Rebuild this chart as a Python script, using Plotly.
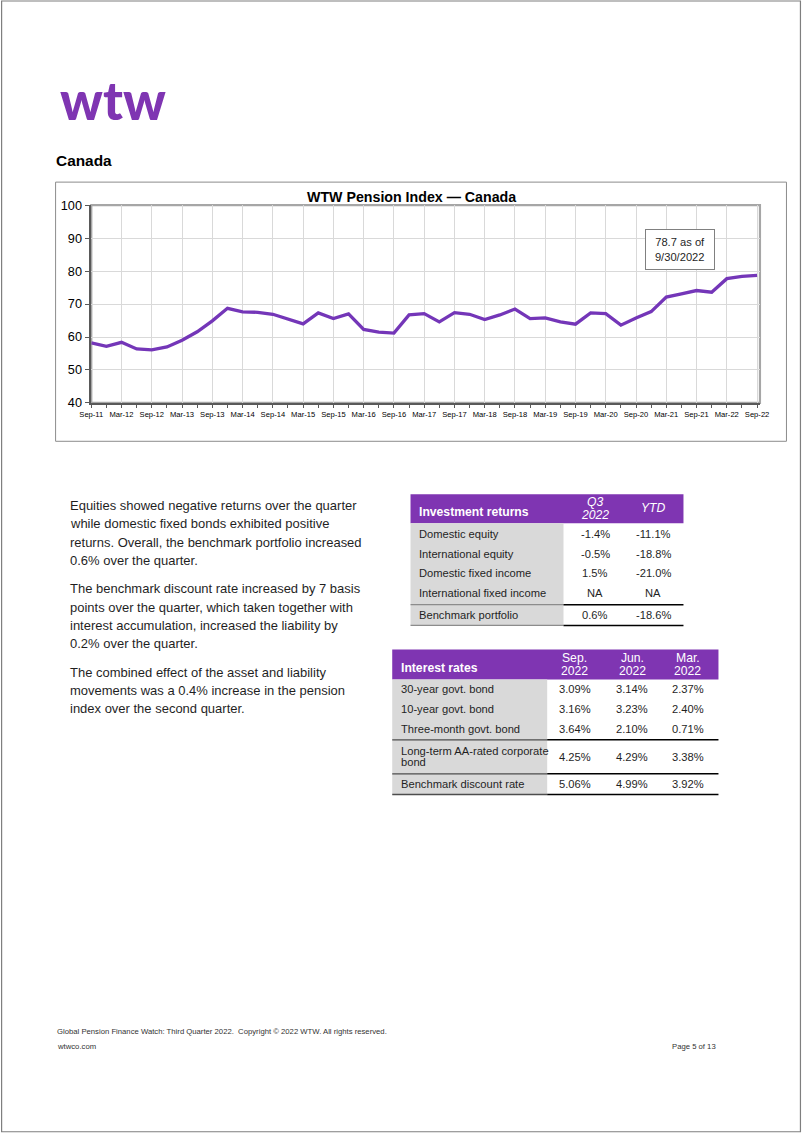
import plotly.graph_objects as go

# ---------------- data ----------------
quarters = [
    "Sep-11", "Dec-11", "Mar-12", "Jun-12", "Sep-12", "Dec-12", "Mar-13", "Jun-13",
    "Sep-13", "Dec-13", "Mar-14", "Jun-14", "Sep-14", "Dec-14", "Mar-15", "Jun-15",
    "Sep-15", "Dec-15", "Mar-16", "Jun-16", "Sep-16", "Dec-16", "Mar-17", "Jun-17",
    "Sep-17", "Dec-17", "Mar-18", "Jun-18", "Sep-18", "Dec-18", "Mar-19", "Jun-19",
    "Sep-19", "Dec-19", "Mar-20", "Jun-20", "Sep-20", "Dec-20", "Mar-21", "Jun-21",
    "Sep-21", "Dec-21", "Mar-22", "Jun-22", "Sep-22",
]
index_values = [
    58.2, 57.2, 58.4, 56.4, 56.1, 57.0, 59.0, 61.6, 64.9, 68.7,
    67.6, 67.5, 66.9, 65.5, 64.0, 67.3, 65.6, 67.0, 62.3, 61.5,
    61.2, 66.7, 67.1, 64.6, 67.4, 66.9, 65.3, 66.7, 68.5, 65.6,
    65.8, 64.6, 63.9, 67.3, 67.1, 63.6, 65.8, 67.7, 72.1, 73.1,
    74.1, 73.6, 77.7, 78.4, 78.7,
]
y_ticks = [40, 50, 60, 70, 80, 90, 100]
chart_title = "WTW Pension Index \u2014 Canada"
callout = "78.7 as of<br>9/30/2022"

paragraphs = [
    ["Equities showed negative returns over the quarter",
     "while domestic fixed bonds exhibited positive",
     "returns. Overall, the benchmark portfolio increased",
     "0.6% over the quarter."],
    ["The benchmark discount rate increased by 7 basis",
     "points over the quarter, which taken together with",
     "interest accumulation, increased the liability by",
     "0.2% over the quarter."],
    ["The combined effect of the asset and liability",
     "movements was a 0.4% increase in the pension",
     "index over the second quarter."],
]

inv_header = ["Investment returns", "Q3<br>2022", "YTD"]
inv_rows = ["Domestic equity", "International equity", "Domestic fixed income",
            "International fixed income", "Benchmark portfolio"]
inv_q3 = ["-1.4%", "-0.5%", "1.5%", "NA", "0.6%"]
inv_ytd = ["-11.1%", "-18.8%", "-21.0%", "NA", "-18.6%"]

ir_header = ["Interest rates", "Sep.<br>2022", "Jun.<br>2022", "Mar.<br>2022"]
ir_rows = ["30-year govt. bond", "10-year govt. bond", "Three-month govt. bond",
           "Long-term AA-rated corporate<br>bond", "Benchmark discount rate"]
ir_sep = ["3.09%", "3.16%", "3.64%", "4.25%", "5.06%"]
ir_jun = ["3.14%", "3.23%", "2.10%", "4.29%", "4.99%"]
ir_mar = ["2.37%", "2.40%", "0.71%", "3.38%", "3.92%"]

footer_1 = "Global Pension Finance Watch: Third Quarter 2022.  Copyright \u00a9 2022 WTW. All rights reserved."
footer_2 = "wtwco.com"
footer_page = "Page 5 of 13"

# ---------------- layout helpers ----------------
W, H = 802, 1133
# observed placement of the rendered page inside the returned picture
SX, BX, SY, BY = 0.974, 11.4, 0.987, 7.0
FS = 1.015
FONT = "Liberation Sans, Arial, sans-serif"
PURPLE = "#7F35B2"
LINE_PURPLE = "#7436B8"
TEXT = "#1f1f1f"
GRAYCOL = "#d9d9d9"


def px(x):
    return ((x - BX) / SX) / W


def py(y):
    return 1 - ((y - BY) / SY) / H


annotations = []
shapes = []


def add_text(x, y, s, size=11, color=TEXT, xanchor="left", bold=False,
             italic=False, gap=None, family=FONT):
    lines = s.split("<br>")
    gap = gap if gap is not None else size * 1.1
    y0 = y - gap * (len(lines) - 1) / 2
    for i, ln in enumerate(lines):
        t = ln
        if bold:
            t = "<b>" + t + "</b>"
        if italic:
            t = "<i>" + t + "</i>"
        annotations.append(dict(
            x=px(x), y=py(y0 + i * gap), xref="paper", yref="paper",
            text=t, showarrow=False, xanchor=xanchor, yanchor="middle",
            font=dict(size=size * FS, color=color, family=family),
        ))


def rect(x0, y0, x1, y1, fill=None, line_color=None, lw=1):
    shapes.append(dict(
        type="rect", xref="paper", yref="paper",
        x0=px(x0), x1=px(x1), y0=py(y1), y1=py(y0),
        fillcolor=fill if fill else "rgba(0,0,0,0)",
        line=dict(color=line_color if line_color else "rgba(0,0,0,0)",
                  width=lw if line_color else 0),
        layer="below",
    ))


def hline(x0, x1, y, color, lw=1.5):
    shapes.append(dict(
        type="line", xref="paper", yref="paper",
        x0=px(x0), x1=px(x1), y0=py(y), y1=py(y),
        line=dict(color=color, width=lw), layer="above",
    ))


# ---------------- figure ----------------
fig = go.Figure()
xs = list(range(len(quarters)))
fig.add_trace(go.Scatter(
    x=xs, y=index_values, mode="lines", customdata=quarters,
    line=dict(color=LINE_PURPLE, width=3.3),
    hovertemplate="%{customdata}: %{y:.1f}<extra></extra>",
    showlegend=False,
))

tickvals = [i for i, q in enumerate(quarters) if q[:3] in ("Sep", "Mar")]
ticktext = [quarters[i] for i in tickvals]

PLOT_L, PLOT_R, PLOT_T, PLOT_B = 90.7, 759.5, 205.0, 402.7

# page border
rect(1, 1, 800, 1131, line_color="#7f7f7f", lw=1.2)
# chart outer box
rect(55, 182, 786, 441, line_color="#8c8c8c", lw=1)
# plot frame
rect(PLOT_L, PLOT_T, PLOT_R, PLOT_B, line_color="#a6a6a6", lw=2.2)

# logo and section title
annotations.append(dict(
    x=px(112.5), y=py(99.5), xref="paper", yref="paper", showarrow=False,
    text="wtw", xanchor="center", yanchor="middle",
    font=dict(size=53, color=PURPLE, family="Lato, Inter, sans-serif", weight=900),
))
add_text(53, 160, "Canada", size=15.2, color="#000000", bold=True)

# chart title
add_text(411, 197, chart_title, size=14, color="#000000", bold=True, xanchor="center")

# callout
annotations.append(dict(
    x=px(680), y=py(249), xref="paper", yref="paper", showarrow=False,
    text=callout, xanchor="center", yanchor="middle",
    font=dict(size=11 * FS, color=TEXT, family=FONT),
    bgcolor="#ffffff", bordercolor="#808080", borderwidth=1, borderpad=4,
    width=60, height=31,
))

# paragraphs
para_y = [[505, 523.3, 541.7, 560], [588.3, 606.7, 625, 643.3], [671.7, 690, 708.3]]
for lines, ys in zip(paragraphs, para_y):
    for ln, yy in zip(lines, ys):
        add_text(67, yy, ln, size=12.8, color=TEXT)

# investment returns table
IX0, IXL, IX1 = 410, 563, 683
rect(IX0, 494, IX1, 523, fill=PURPLE)
rect(IX0, 523, IXL, 625, fill=GRAYCOL)
add_text(416, 512, inv_header[0], size=12, color="#ffffff", bold=True)
inv_cols = [595, 653]
add_text(inv_cols[0], 508, inv_header[1], size=12, color="#ffffff", italic=True, gap=12.5, xanchor="center")
add_text(inv_cols[1], 508, inv_header[2], size=12, color="#ffffff", italic=True, xanchor="center")
inv_row_y = [534, 553.5, 573, 593, 615]
for lab, a, b, yy in zip(inv_rows, inv_q3, inv_ytd, inv_row_y):
    add_text(416, yy, lab, size=11)
    add_text(inv_cols[0], yy, a, size=11, xanchor="center")
    add_text(inv_cols[1], yy, b, size=11, xanchor="center")
for yy in (604.3, 625):
    hline(IX0, IXL, yy, "#8c8c8c", 1.3)
    hline(IXL, IX1, yy, "#000000", 1.5)

# interest rates table
RX0, RXL, RX1 = 391.7, 546.7, 718
rect(RX0, 649, RX1, 679, fill=PURPLE)
rect(RX0, 679, RXL, 794, fill=GRAYCOL)
add_text(398, 668, ir_header[0], size=12, color="#ffffff", bold=True)
ir_cols = [574.5, 631.7, 687.5]
for h, cx in zip(ir_header[1:], ir_cols):
    add_text(cx, 664, h, size=12, color="#ffffff", gap=12.5, xanchor="center")
ir_row_y = [689, 709, 728.7, 756.3, 783.3]
for lab, a, b, c, yy in zip(ir_rows, ir_sep, ir_jun, ir_mar, ir_row_y):
    add_text(398, yy, lab, size=11, gap=10.8)
    for v, cx in zip((a, b, c), ir_cols):
        add_text(cx, yy, v, size=11, xanchor="center")
for yy in (739.3, 773.3, 794):
    hline(RX0, RXL, yy, "#4d4d4d", 1.3)
    hline(RXL, RX1, yy, "#000000", 1.5)

# footer
add_text(54, 1031, footer_1, size=7.6, color="#333333")
add_text(54, 1046, footer_2, size=7.6, color="#333333")
add_text(718, 1046, footer_page, size=7.6, color="#333333", xanchor="right")

fig.update_layout(
    width=W, height=H, autosize=False,
    margin=dict(l=0, r=0, t=0, b=0),
    paper_bgcolor="#ffffff", plot_bgcolor="#ffffff",
    shapes=shapes, annotations=annotations,
    font=dict(family=FONT, color=TEXT),
    xaxis=dict(
        domain=[px(PLOT_L), px(PLOT_R)],
        range=[0, 44.19],
        tickmode="array", tickvals=tickvals, ticktext=ticktext, tickangle=0,
        tickfont=dict(size=7.6, family=FONT, color="#000000"),
        showgrid=True, gridcolor="#d9d9d9", gridwidth=1,
        showline=True, linecolor="#595959", linewidth=1.5,
        ticks="outside", ticklen=3, tickcolor="#595959",
        minor=dict(tickmode="array", tickvals=xs, ticks="outside", ticklen=3,
                   tickcolor="#595959", showgrid=False),
        zeroline=False, fixedrange=True,
    ),
    yaxis=dict(
        domain=[py(PLOT_B), py(PLOT_T)],
        range=[40, 100], tickmode="array", tickvals=y_ticks,
        tickfont=dict(size=12.7, family=FONT, color="#000000"),
        showgrid=True, gridcolor="#d9d9d9", gridwidth=1,
        showline=True, linecolor="#595959", linewidth=1.5,
        ticks="outside", ticklen=5, tickcolor="#595959",
        zeroline=False, fixedrange=True,
    ),
)

fig.write_html(
    "out.html",
    config={"displayModeBar": False},
    post_script="document.body.style.margin='0';document.body.style.overflow='hidden';",
)
